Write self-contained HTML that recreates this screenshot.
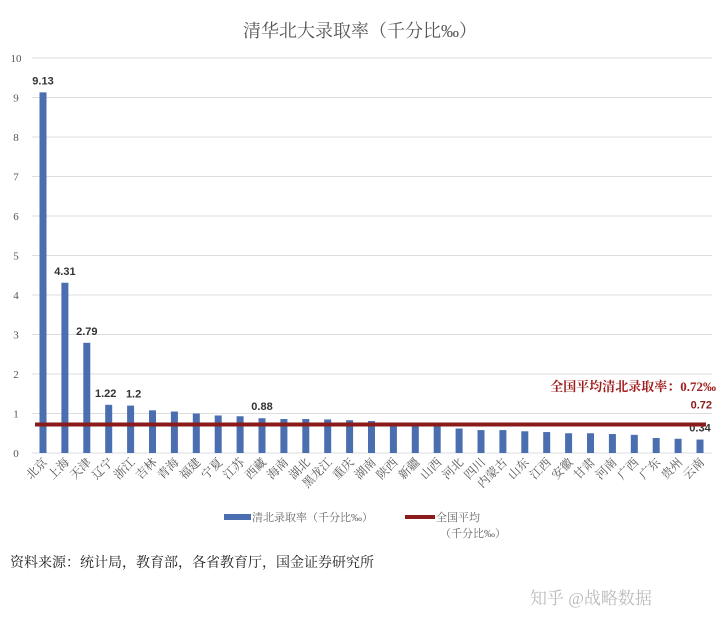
<!DOCTYPE html>
<html><head><meta charset="utf-8"><style>
body{margin:0;background:#fff;width:720px;height:629px;overflow:hidden;font-family:"Liberation Sans","Noto Sans CJK SC",sans-serif;}
svg text{font-family:"Liberation Serif","Noto Serif CJK SC",serif;}
</style></head><body>
<svg id="chart" width="720" height="629" xmlns="http://www.w3.org/2000/svg">
<text x="360" y="37" text-anchor="middle" font-size="18" fill="#555">清华北大录取率（千分比‰）</text>
<g id="grid"></g><g id="bars"></g><g id="xlabels"></g>
<g>
<rect x="224" y="514" width="27" height="6" fill="#4a6eb0"/>
<text x="252" y="521" font-size="11" fill="#666">清北录取率（千分比‰）</text>
<rect x="405" y="515" width="30" height="4" fill="#8b1a1a"/>
<text x="436" y="521" font-size="11" fill="#666">全国平均</text>
<text x="440" y="537" font-size="11" fill="#666">（千分比‰）</text>
</g>
<text x="10" y="567" font-size="14" fill="#222">资料来源：统计局，教育部，各省教育厅，国金证券研究所</text>
<text x="530" y="604" font-size="17" fill="#bbb">知乎 @战略数据</text>
</svg>
<script>
const categories=["北京","上海","天津","辽宁","浙江","吉林","青海","福建","宁夏","江苏","西藏","海南","湖北","黑龙江","重庆","湖南","陕西","新疆","山西","河北","四川","内蒙古","山东","江西","安徽","甘肃","河南","广西","广东","贵州","云南"];
const values=[9.13,4.31,2.79,1.22,1.2,1.08,1.05,1.0,0.95,0.93,0.88,0.86,0.86,0.85,0.83,0.81,0.75,0.74,0.74,0.62,0.58,0.58,0.55,0.53,0.5,0.5,0.48,0.46,0.38,0.36,0.34];
const labeled=["9.13","4.31","2.79","1.22","1.2","","","","","","0.88","","","","","","","","","","","","","","","","","","","","0.34"];
const yTicks=[0,1,2,3,4,5,6,7,8,9,10];
const average=[0.72];
const NS="http://www.w3.org/2000/svg";
const y=v=>453-v*39.5;
const x=i=>43+i*21.9;
function mk(t,a,p){const e=document.createElementNS(NS,t);for(const k in a)e.setAttribute(k,a[k]);p.appendChild(e);return e;}
const grid=document.getElementById('grid');
yTicks.forEach(t=>{
 const l=mk('line',{x1:32,x2:712,y1:y(t),y2:y(t),stroke:'#ddd','stroke-width':1},grid);
 
 
 const tx=mk('text',{x:16,y:y(t)+4,'text-anchor':'middle','font-size':11,fill:'#555'},grid);
 tx.textContent=t;
 
 
});
const bars=document.getElementById('bars'),xl=document.getElementById('xlabels');
values.forEach((v,i)=>{
 const r=mk('rect',{x:x(i)-3.5,y:y(v),width:7,height:y(0)-y(v),fill:'#4a6eb0'},bars);
 
 
 if(labeled[i]){const t=mk('text',{x:x(i)+(i==3?-3:i==4?3:0),y:y(v)-8,'text-anchor':'middle','font-size':11,'font-weight':'bold',fill:'#333',style:'font-family:"Liberation Sans",sans-serif'},bars);t.textContent=labeled[i];
 
 }
 const t=mk('text',{transform:`translate(${x(i)+5},${y(0)+10}) rotate(-45)`,'text-anchor':'end','font-size':12,fill:'#555'},xl);
 t.textContent=categories[i];
 
 
});
const al=mk('line',{x1:35,x2:706,y1:y(average[0]),y2:y(average[0]),stroke:'#8b1a1a','stroke-width':4},bars);


const at=mk('text',{x:712,y:y(average[0])-16,'text-anchor':'end','font-size':11,'font-weight':'bold',fill:'#8b1a1a',style:'font-family:"Liberation Sans",sans-serif'},bars);
at.textContent=average[0].toFixed(2);


const an=mk('text',{x:716,y:391,'text-anchor':'end','font-size':13,'font-weight':'bold',fill:'#a01c1c'},bars);
an.textContent='全国平均清北录取率：'+average[0].toFixed(2)+'‰';


</script>
</body></html>
